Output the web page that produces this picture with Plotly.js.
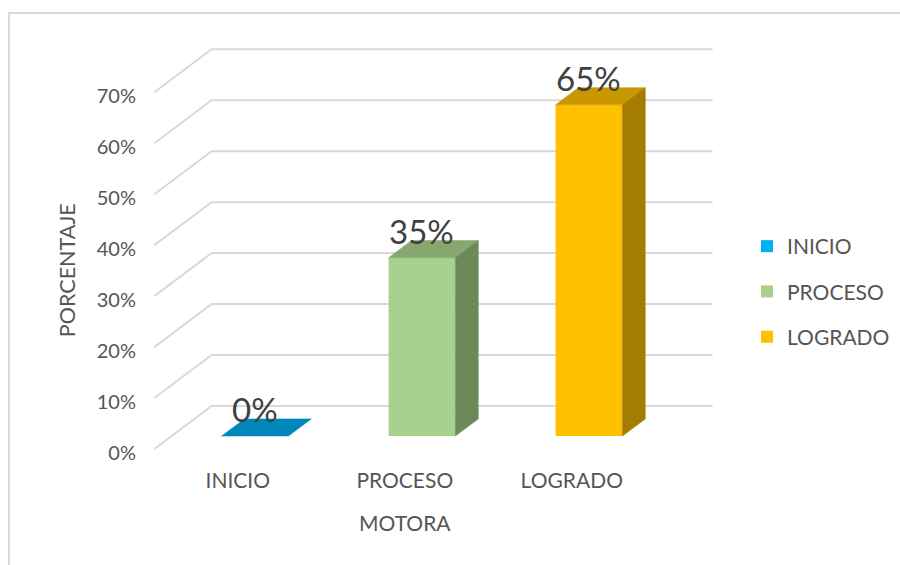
<!DOCTYPE html>
<html>
<head>
<meta charset="utf-8">
<script src="https://cdn.plot.ly/plotly-3.0.1.min.js"></script>
<style>
  html, body { margin: 0; padding: 0; background: #ffffff; }
  #wrap { position: relative; width: 900px; height: 565px; overflow: hidden; }
  #chart { position: absolute; left: 0; top: 0; width: 900px; height: 565px; }
  #frame { position: absolute; left: 8px; top: 12px; width: 1000px; height: 700px;
           border-left: 2px solid #d9d9d9; border-top: 2px solid #d9d9d9; pointer-events: none; }
</style>
</head>
<body>
<div id="wrap">
  <div id="chart"></div>
  <div id="frame"></div>
</div>
<script>
// ---------------- DATA ----------------
const categories = ['INICIO', 'PROCESO', 'LOGRADO'];
const values = [0, 35, 65];               // percent
const yTickValues = [0, 10, 20, 30, 40, 50, 60, 70];
const yTickLabels = ['0%', '10%', '20%', '30%', '40%', '50%', '60%', '70%'];
const xTitle = 'MOTORA';
const yTitle = 'PORCENTAJE';

// ---------------- STYLE ----------------
const FONT = 'Lato, "Open Sans", sans-serif';
const frontColors = ['#00B0F0', '#A9D18E', '#FFC000'];
const topColors   = ['#0087B9', '#86A86F', '#C99700'];
const sideColors  = ['#006C94', '#6C8A59', '#A47C00'];
const gridColor = '#d9d9d9';
const textColor = '#555555';

// oblique "3D" projection, in axis units: depth z in [0,1]
const DX = 0.343;   // x-axis units shifted at full depth
const DY = 8.44;    // y-axis units shifted at full depth
const ZF = 0.30, ZB = 0.70;   // bar front / back depth
const BW = 0.40;              // bar width (category units)
const FLOOR_X0 = -0.5, FLOOR_X1 = categories.length - 0.5;

// plot box geometry (pixels) and scale
const W = 900, H = 565;
const ML = 137, MR = 180, MT = 30, MB = 103;
const PX_PER_X = 167, PX_PER_Y = 5.096;
const X0_PIX = 237.8;   // pixel of x=0 at depth 0
const Y0_PIX = 449;     // pixel of y=0 at depth 0
const plotW = W - ML - MR, plotH = H - MT - MB;
const xRange = [(ML - X0_PIX) / PX_PER_X, (W - MR - X0_PIX) / PX_PER_X];
const yRange = [(Y0_PIX - (H - MB)) / PX_PER_Y, (Y0_PIX - MT) / PX_PER_Y];

function P(x, y, z) { return [x + z * DX, y + z * DY]; }

const traces = [];
const shapes = [];
const annotations = [];

// gridlines (left wall + back wall), built from tick values
yTickValues.forEach(t => {
  const a = P(FLOOR_X0, t, 0), b = P(FLOOR_X0, t, 1), c = P(FLOOR_X1, t, 1);
  shapes.push({
    type: 'path', xref: 'x', yref: 'y', layer: 'below',
    path: `M ${a[0]},${a[1]} L ${b[0]},${b[1]} L ${c[0]},${c[1]}`,
    line: { color: gridColor, width: 2 }
  });
});

// bars: front face as bar traces
categories.forEach((cat, i) => {
  traces.push({
    type: 'bar', name: cat, legendgroup: cat,
    x: [i + ZF * DX], y: [values[i]], base: [ZF * DY], width: [BW],
    marker: { color: frontColors[i], line: { width: 0 } },
    hoverinfo: 'skip'
  });
});

// top and side faces
categories.forEach((cat, i) => {
  const v = values[i];
  const xl = i - BW / 2, xr = i + BW / 2;
  const top = [P(xl, v, ZF), P(xr, v, ZF), P(xr, v, ZB), P(xl, v, ZB), P(xl, v, ZF)];
  traces.push({
    type: 'scatter', mode: 'lines', fill: 'toself',
    x: top.map(p => p[0]), y: top.map(p => p[1]),
    fillcolor: topColors[i], line: { color: topColors[i], width: 0.5 },
    showlegend: false, hoverinfo: 'skip'
  });
  if (v > 0) {
    const side = [P(xr, 0, ZF), P(xr, v, ZF), P(xr, v, ZB), P(xr, 0, ZB), P(xr, 0, ZF)];
    traces.push({
      type: 'scatter', mode: 'lines', fill: 'toself',
      x: side.map(p => p[0]), y: side.map(p => p[1]),
      fillcolor: sideColors[i], line: { color: sideColors[i], width: 0.5 },
      showlegend: false, hoverinfo: 'skip'
    });
  }
  // data label
  annotations.push({
    x: i + ZF * DX, y: v + ZB * DY, xref: 'x', yref: 'y',
    text: v + '%', showarrow: false, yanchor: 'middle', yshift: 10,
    font: { family: FONT, size: 33, color: '#404040' }
  });
});

// axis titles
annotations.push({
  x: 1, xref: 'x', y: (H - MB - 522) / plotH, yref: 'paper',
  text: xTitle, showarrow: false, yanchor: 'middle',
  font: { family: FONT, size: 21, color: textColor }
});
annotations.push({
  x: (66.5 - ML) / plotW, xref: 'paper', y: 35, yref: 'y',
  text: yTitle, showarrow: false, textangle: -90, xanchor: 'center', yanchor: 'middle',
  font: { family: FONT, size: 21.5, color: textColor }
});

const layout = {
  width: W, height: H,
  margin: { l: ML, r: MR, t: MT, b: MB, pad: 0 },
  paper_bgcolor: '#ffffff', plot_bgcolor: 'rgba(0,0,0,0)',
  barmode: 'overlay',
  showlegend: true,
  legend: {
    xref: 'container', yref: 'container',
    x: 747 / W, y: 1 - 226 / H, xanchor: 'left', yanchor: 'top',
    traceorder: 'grouped', tracegroupgap: 15,
    itemwidth: 30,
    font: { family: FONT, size: 21, color: textColor },
    bgcolor: 'rgba(0,0,0,0)'
  },
  xaxis: {
    range: xRange, tickvals: [0, 1, 2], ticktext: categories,
    showgrid: false, zeroline: false, showline: false, ticks: '',
    ticklabelstandoff: 4,
    tickfont: { family: FONT, size: 21, color: textColor },
    fixedrange: true
  },
  yaxis: {
    range: yRange, tickvals: yTickValues, ticktext: yTickLabels,
    showgrid: false, zeroline: false, showline: false, ticks: '',
    ticklabelshift: 4,
    tickfont: { family: FONT, size: 20, color: textColor },
    fixedrange: true
  },
  shapes: shapes,
  annotations: annotations
};

Plotly.newPlot('chart', traces, layout, { displayModeBar: false, staticPlot: true });
</script>
</body>
</html>
